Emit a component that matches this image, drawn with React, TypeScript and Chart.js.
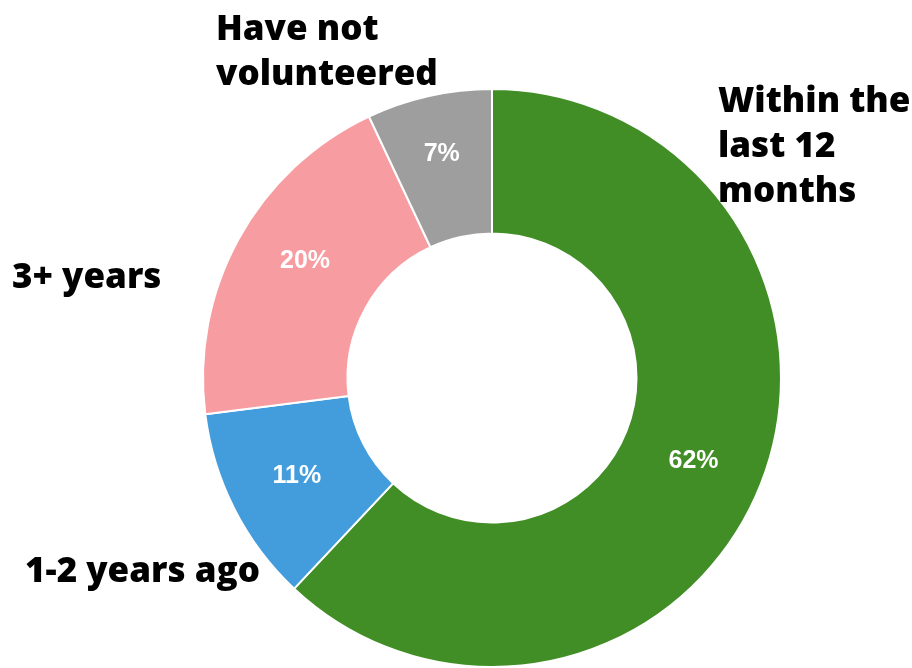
import React, { useEffect, useRef } from "react";
import { Chart, registerables } from "chart.js";

Chart.register(...registerables);

const categories = ["Within the last 12 months", "1-2 years ago", "3+ years", "Have not volunteered"];
const values = [62, 11, 20, 7];
const colors = ["#418E26", "#439DDC", "#F79CA0", "#9E9E9E"];

// outside label text (split into lines) and placement on the canvas (layout only)
const outsideLines = [["Within the", "last 12", "months"], ["1-2 years ago"], ["3+ years"], ["Have not", "volunteered"]];
const outsidePos = [
  { x: 718, y: 112 },
  { x: 25, y: 582 },
  { x: 12, y: 288 },
  { x: 216, y: 40 },
];
// small nudges of the percentage labels (layout only)
const pctNudge = [
  [0, 3],
  [-2, 0],
  [3, -12],
  [-3, -12],
];

const labelPlugin = {
  id: "labelPlugin",
  afterDatasetsDraw(chart: any) {
    const ctx = chart.ctx;
    const meta = chart.getDatasetMeta(0);
    const total = values.reduce((a, b) => a + b, 0);
    ctx.save();
    meta.data.forEach((arc: any, i: number) => {
      const p = arc.getProps(["x", "y", "startAngle", "endAngle", "innerRadius", "outerRadius"], true);
      const mid = (p.startAngle + p.endAngle) / 2;
      const r = (p.innerRadius + p.outerRadius) / 2;
      const x = p.x + Math.cos(mid) * r + pctNudge[i][0];
      const y = p.y + Math.sin(mid) * r + pctNudge[i][1];
      ctx.fillStyle = "#ffffff";
      ctx.font = "bold 25px 'Liberation Sans', Arial, sans-serif";
      ctx.textAlign = "center";
      ctx.textBaseline = "middle";
      ctx.fillText(Math.round((values[i] / total) * 100) + "%", x, y);
    });
    ctx.fillStyle = "#000000";
    ctx.font = "800 35px 'Open Sans', sans-serif";
    ctx.textAlign = "left";
    ctx.textBaseline = "alphabetic";
    outsideLines.forEach((lines, i) => {
      lines.forEach((line, j) => {
        ctx.fillText(line, outsidePos[i].x, outsidePos[i].y + j * 45);
      });
    });
    ctx.restore();
  },
};

export default function App() {
  const ref = useRef<HTMLCanvasElement>(null);
  useEffect(() => {
    if (!ref.current) return;
    const chart = new Chart(ref.current, {
      type: "doughnut",
      data: {
        labels: categories,
        datasets: [
          {
            data: values,
            backgroundColor: colors,
            borderColor: "#ffffff",
            borderWidth: 2,
          },
        ],
      },
      options: {
        responsive: false,
        animation: false,
        cutout: "50%",
        layout: { padding: { top: 88, bottom: 0, left: 198, right: 126 } },
        plugins: {
          legend: { display: false },
          tooltip: { enabled: false },
        },
      },
      plugins: [labelPlugin],
    });
    return () => chart.destroy();
  }, []);
  return (
    <div style={{ position: "absolute", left: 0, top: 0, width: 912, height: 668, background: "#ffffff" }}>
      <canvas ref={ref} width={912} height={668} style={{ display: "block" }} />
    </div>
  );
}
